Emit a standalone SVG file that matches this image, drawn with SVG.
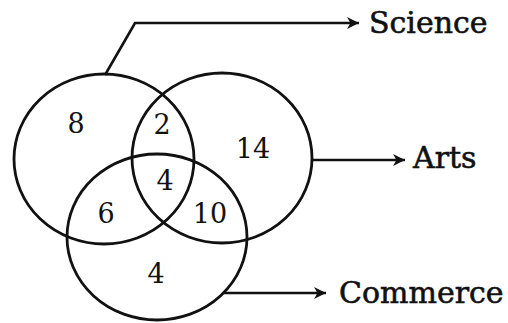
<svg xmlns="http://www.w3.org/2000/svg" width="508" height="323" viewBox="0 0 508 323">
<style>
.c{fill:none;stroke:#111;stroke-width:2.8}
.l{fill:none;stroke:#111;stroke-width:2.6}
.n{font-family:"DejaVu Serif","Liberation Serif",serif;font-size:27px;fill:#111;text-anchor:middle}
.t{font-family:"DejaVu Serif","Liberation Serif",serif;font-size:30px;fill:#111;stroke:#111;stroke-width:0.6}
</style>
<defs>
<marker id="ah" viewBox="0 0 14 14" refX="13" refY="7" markerWidth="14" markerHeight="14" markerUnits="userSpaceOnUse" orient="auto">
<path d="M1,1 L13,7 L1,13 L4.5,7 Z" fill="#111"/>
</marker>
</defs>
<rect width="508" height="323" fill="#fff"/>
<g id="science"><ellipse class="c" cx="104" cy="159" rx="90" ry="85"/><text class="t" x="369" y="33">Science</text></g>
<g id="arts"><ellipse class="c" cx="222" cy="158" rx="90" ry="85"/><text class="t" x="413" y="168">Arts</text></g>
<g id="commerce"><ellipse class="c" cx="157" cy="237" rx="90" ry="83"/><text class="t" x="339" y="303">Commerce</text></g>
<g id="connectors">
<path class="l" d="M105,75 L135,23 L359,23" marker-end="url(#ah)"/>
<path class="l" d="M312,160 L405,160" marker-end="url(#ah)"/>
<path class="l" d="M223,293 L326,293" marker-end="url(#ah)"/>
</g>
<g id="numbers">
<text class="n" x="76" y="133">8</text>
<text class="n" x="162" y="134">2</text>
<text class="n" x="253" y="158">14</text>
<text class="n" x="165" y="190">4</text>
<text class="n" x="106" y="223">6</text>
<text class="n" x="210" y="223">10</text>
<text class="n" x="156" y="283">4</text>
</g>
</svg>
